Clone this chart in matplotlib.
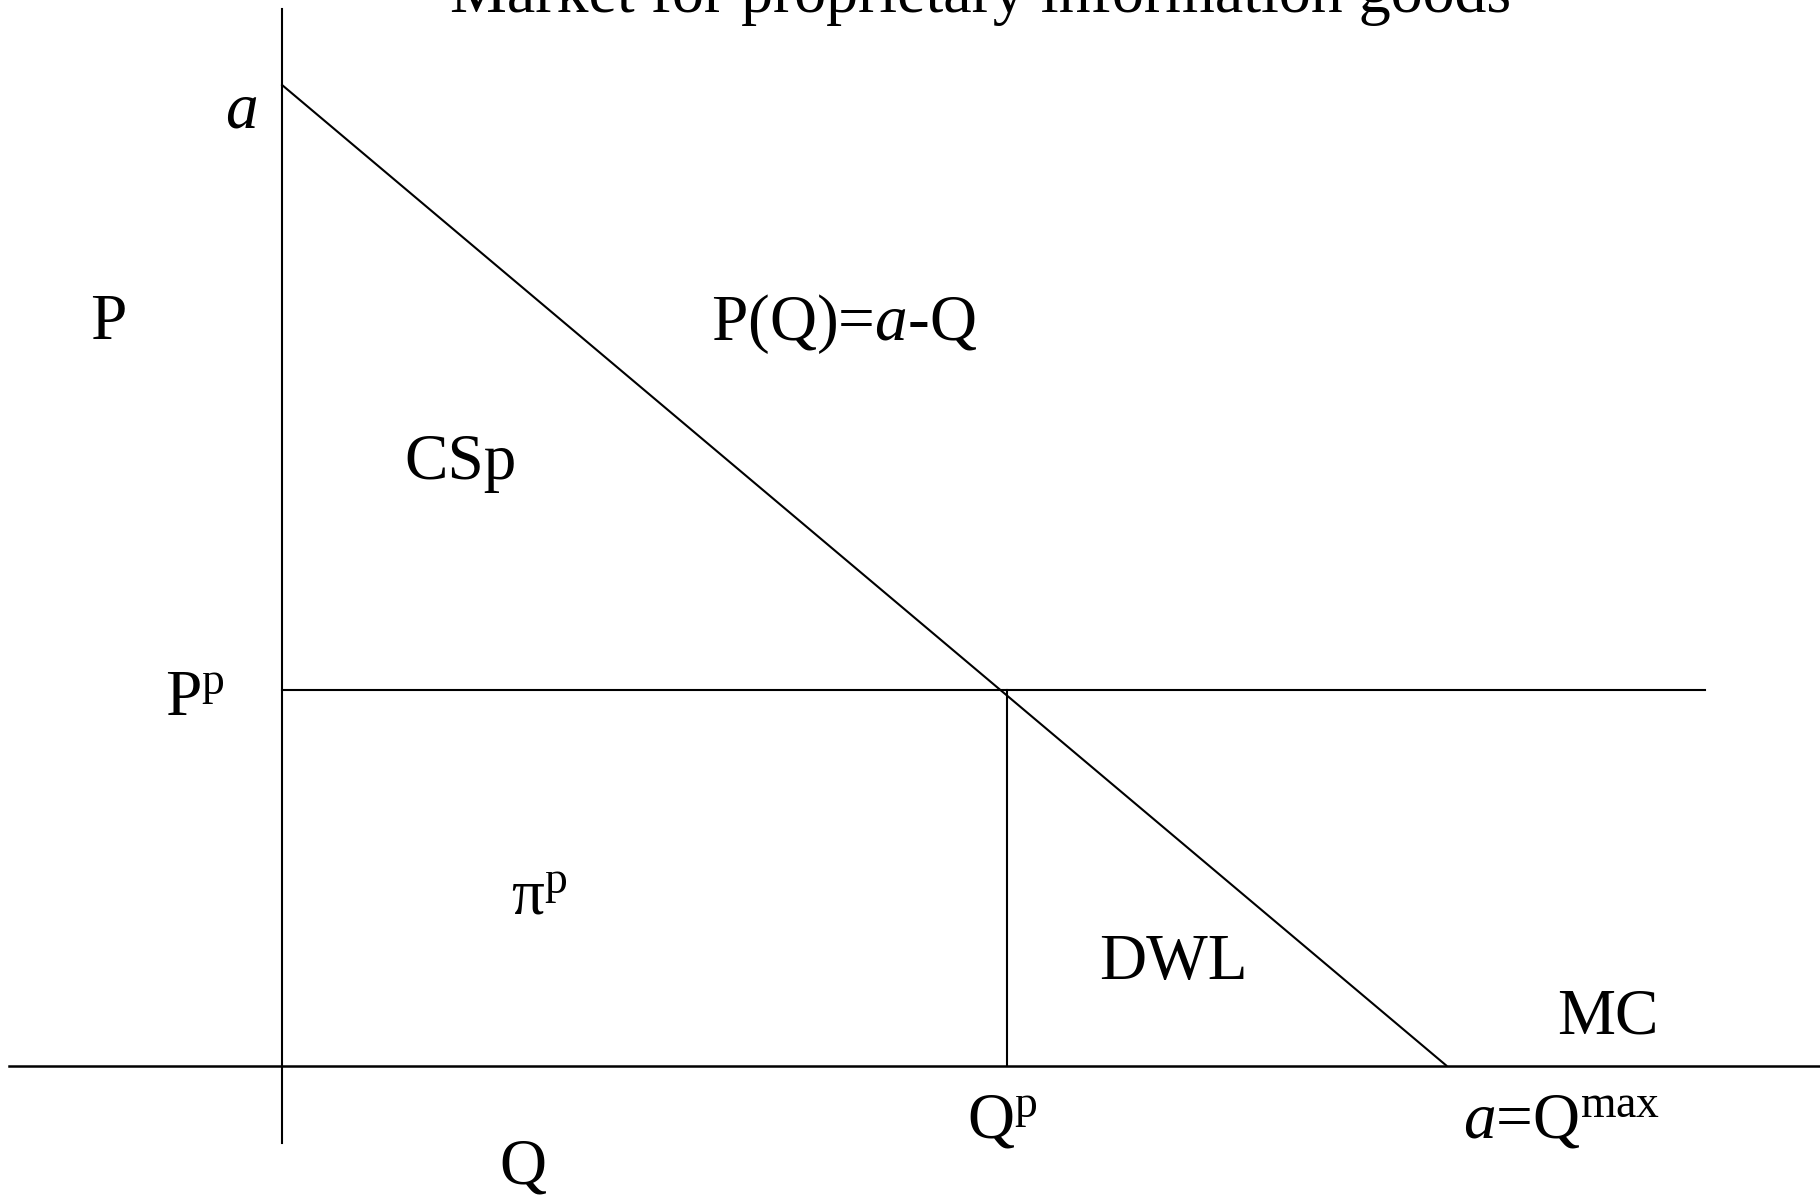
import matplotlib as mpl
mpl.use('Agg')
import matplotlib.pyplot as plt

mpl.rcParams['font.family'] = ['Liberation Serif', 'DejaVu Serif']
mpl.rcParams['mathtext.fontset'] = 'custom'
mpl.rcParams['mathtext.rm'] = 'Liberation Serif'
mpl.rcParams['mathtext.it'] = 'Liberation Serif:italic'

# model values (data units, a = 10)
a = 10.0
Qp = 6.23
Pp = 3.83
Pp_line_end = 12.22
demand_Q = [0, a]
demand_P = [a, 0]

fs = 47
fig = plt.figure(figsize=(18.2, 11.98), dpi=100)
ax = fig.add_axes([0, 0, 1, 1])
ax.set_xlim(-2.423, 13.21)
ax.set_ylim(-1.351, 10.867)
ax.axis('off')

lw = 1.5
# axes
ax.plot([0, 0], [-0.79, 10.78], color='k', lw=lw)
ax.plot([-2.345, 13.21], [0, 0], color='k', lw=1.8)
# demand
ax.plot(demand_Q, demand_P, color='k', lw=lw)
# price line and quantity line
ax.plot([0, Pp_line_end], [Pp, Pp], color='k', lw=lw)
ax.plot([Qp, Qp], [0, Pp], color='k', lw=lw)

ax.text(6.0, 10.745, 'Market for proprietary information goods', fontsize=46,
        ha='center', va='baseline')
ax.text(-0.348, 9.565, 'a', fontsize=fs, style='italic', ha='center', va='baseline')
ax.text(-1.495, 7.41, 'P', fontsize=fs, ha='center', va='baseline')
ax.text(3.68, 7.40, 'P(Q)=$a$-Q', fontsize=fs, ha='left', va='baseline')
ax.text(1.048, 5.98, 'CSp', fontsize=fs, ha='left', va='baseline')
ax.text(-1.005, 3.58, 'P$^{\\mathrm{p}}$', fontsize=fs, ha='left', va='baseline')
ax.text(1.966, 1.539, 'π$^{\\mathrm{p}}$', fontsize=fs, ha='left', va='baseline')
ax.text(7.02, 0.887, 'DWL', fontsize=fs, ha='left', va='baseline')
ax.text(10.95, 0.331, 'MC', fontsize=fs, ha='left', va='baseline')
ax.text(5.88, -0.734, 'Q$^{\\mathrm{p}}$', fontsize=fs, ha='left', va='baseline')
ax.text(10.14, -0.734, '$a$=Q$^{\\mathrm{max}}$', fontsize=fs, ha='left', va='baseline')
ax.text(1.864, -1.208, 'Q', fontsize=fs, ha='left', va='baseline')

plt.savefig('out.png', dpi=100)
